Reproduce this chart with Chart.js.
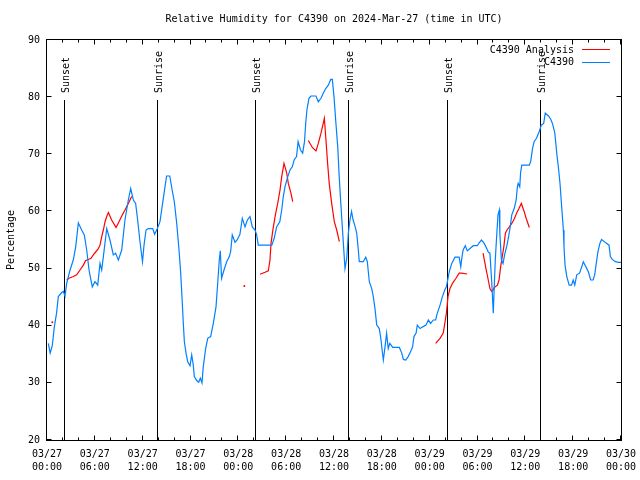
<!DOCTYPE html>
<html>
<head>
<meta charset="utf-8">
<script src="https://cdn.jsdelivr.net/npm/chart.js@4"></script>
<style>
  html, body { margin: 0; padding: 0; background: #fff; }
</style>
</head>
<body>
<canvas id="rhChart" width="640" height="480"></canvas>
<script>
// hours since 03/27 00:00 UTC
const stationHours = [
  0.16, 0.4, 0.67, 0.92, 1.2, 1.42, 1.84, 2.05, 2.26, 2.47, 2.89, 3.3, 3.6, 3.93, 4.35, 4.68, 4.98, 5.27, 5.68, 6.02,
  6.36, 6.65, 6.86, 7.07, 7.49, 7.9, 8.32, 8.6, 8.95, 9.37, 9.78, 10.2, 10.5, 10.83, 11.12, 11.37, 11.67, 11.98, 12.17, 12.42,
  12.7, 13.26, 13.5, 13.84, 14.17, 14.5, 14.8, 15.0, 15.4, 15.7, 15.97, 16.27, 16.56, 16.77, 16.93, 17.1, 17.23, 17.44, 17.65, 17.94,
  18.15, 18.35, 18.48, 18.78, 19.03, 19.23, 19.44, 19.6, 19.9, 20.16, 20.53, 20.86, 21.2, 21.41, 21.61, 21.74, 21.9, 22.2, 22.54, 22.87,
  23.04, 23.24, 23.58, 23.85, 24.2, 24.5, 24.84, 25.13, 25.46, 25.75, 26.1, 26.3, 26.5, 27.76, 28.2, 28.5, 28.8, 29.2, 29.44, 29.64,
  29.85, 30.2, 30.48, 30.77, 31.0, 31.3, 31.5, 31.8, 32.07, 32.3, 32.45, 32.6, 32.86, 33.1, 33.74, 34.03, 34.37, 34.65, 34.96, 35.29,
  35.59, 35.79, 36.0, 36.21, 36.47, 36.63, 36.8, 36.96, 37.17, 37.38, 37.6, 37.8, 38.0, 38.2, 38.4, 38.6, 38.85, 39.05, 39.17, 39.67,
  39.98, 40.18, 40.43, 40.73, 40.93, 41.14, 41.36, 41.68, 41.9, 42.06, 42.19, 42.4, 42.6, 42.8, 43.0, 43.37, 44.2, 44.5, 44.7, 45.0,
  45.3, 45.6, 45.86, 46.03, 46.3, 46.45, 46.8, 47.13, 47.54, 47.83, 48.12, 48.45, 48.75, 48.96, 49.3, 49.6, 49.9, 50.1, 50.3, 50.46,
  50.77, 51.18, 51.7, 51.9, 52.06, 52.2, 52.47, 52.72, 53.06, 53.47, 53.97, 54.2, 54.5, 54.8, 55.06, 55.35, 55.56, 55.77, 55.9, 55.98,
  56.1, 56.23, 56.4, 56.57, 56.74, 56.8, 57.0, 57.2, 57.4, 57.7, 57.9, 58.1, 58.3, 58.6, 58.85, 59.0, 59.1, 59.3, 59.4, 59.55,
  60.5, 60.67, 60.9, 61.1, 61.4, 61.75, 62.0, 62.3, 62.5, 62.9, 63.2, 63.4, 63.7, 63.94, 64.14, 64.35, 64.56, 64.77, 64.85, 64.98,
  65.2, 65.5, 65.8, 66.0, 66.2, 66.45, 66.8, 67.07, 67.27, 67.6, 67.9, 68.2, 68.5, 68.7, 68.9, 69.1, 69.35, 69.56, 70.1, 70.5,
  70.67, 70.9, 71.3, 71.7, 72.0
];
const stationValues = [
  36.9, 35.2, 36.6, 39.8, 42.2, 45.1, 45.8, 46.0, 45.2, 47.4, 49.75, 51.5, 53.8, 58.0, 56.75, 55.9, 53.25, 49.75, 46.8, 47.7,
  47.1, 50.9, 49.75, 52.1, 57.0, 55.0, 52.4, 52.7, 51.5, 53.25, 58.5, 62.0, 64.0, 62.0, 61.4, 58.5, 54.6, 51.2, 54.1, 56.75,
  57.0, 57.0, 56.0, 57.0, 58.2, 61.4, 64.3, 66.2, 66.2, 63.75, 61.7, 57.9, 53.25, 49.2, 45.1, 40.4, 37.2, 35.2, 33.7, 33.0,
  34.9, 33.1, 31.1, 30.4, 30.1, 30.8, 30.0, 32.8, 36.0, 37.8, 38.1, 40.4, 43.3, 47.4, 51.5, 53.1, 48.3, 49.75, 51.2, 52.1,
  53.0, 55.9, 54.6, 55.0, 56.0, 58.8, 57.3, 58.5, 59.1, 57.3, 56.75, 55.9, 54.1, 54.1, 54.1, 55.3, 57.3, 58.2, 60.25, 62.6,
  64.3, 66.1, 67.25, 67.8, 69.0, 69.6, 72.2, 70.75, 70.2, 72.2, 75.4, 77.75, 79.8, 80.2, 80.2, 79.2, 79.8, 80.7, 81.5, 82.1,
  83.1, 83.1, 80.1, 76.0, 71.3, 66.7, 62.6, 59.1, 54.5, 50.0, 51.8, 56.2, 58.5, 60.0, 58.5, 57.6, 56.2, 53.25, 51.2, 51.2,
  52.0, 51.2, 47.7, 46.5, 45.1, 43.0, 40.1, 39.5, 37.5, 35.45, 34.0, 36.3, 38.7, 36.0, 36.9, 36.2, 36.2, 35.2, 34.1, 34.0,
  34.6, 35.45, 36.3, 38.1, 38.7, 40.1, 39.5, 39.8, 40.1, 41.0, 40.4, 41.0, 41.0, 42.2, 43.6, 45.1, 46.3, 46.8, 48.3, 49.45,
  50.9, 52.0, 52.0, 50.3, 52.1, 53.25, 54.0, 53.1, 53.5, 54.0, 54.0, 54.5, 55.0, 54.5, 53.8, 52.9, 52.7, 48.0, 44.5, 42.2,
  46.8, 51.5, 55.6, 59.4, 60.25, 56.2, 51.5, 50.9, 52.4, 54.1, 55.6, 57.3, 59.4, 60.5, 62.0, 64.3, 64.9, 64.3, 66.7, 68.1,
  68.1, 68.7, 71.0, 72.2, 72.8, 74.0, 75.1, 75.4, 77.2, 76.7, 76.1, 75.4, 73.7, 70.2, 67.8, 64.9, 60.8, 56.75, 53.8, 50.6,
  48.6, 47.1, 47.1, 48.0, 47.1, 48.9, 49.2, 50.3, 51.2, 50.3, 49.45, 48.0, 48.0, 48.9, 50.9, 52.9, 54.4, 55.1, 54.5, 54.1,
  52.1, 51.6, 51.2, 51.1, 51.1
];

// analysis series, null value = gap between segments
const analysisHours = [
  0.67, 1.5,
  2.47, 2.76, 3.3, 3.72, 4.14, 4.56, 4.85, 5.19, 5.52, 5.81, 6.1, 6.44, 6.65, 6.86, 7.07, 7.28, 7.49, 7.7, 8.11, 8.66, 9.03, 9.45, 9.78, 10.2, 10.62, 12.0,
  24.75, 25.5,
  26.72, 27.35, 27.76, 27.97, 28.1, 28.39, 28.69, 28.94, 29.23, 29.44, 29.73, 30.07, 30.27, 30.6, 30.82, 31.5,
  32.78, 33.28, 33.74, 34.03, 34.37, 34.79, 34.96, 35.2, 35.4, 35.71, 36.04, 36.34, 36.67, 40.0,
  48.75, 49.3, 49.7, 49.9, 50.1, 50.3, 50.55, 50.9, 51.3, 51.7, 52.0, 52.7, 53.5,
  54.7, 55.06, 55.35, 55.56, 55.77, 55.98, 56.1, 56.5, 56.7, 56.9, 57.1, 57.3, 57.5, 57.7, 58.0, 58.3, 58.65, 58.9, 59.2, 59.5, 59.85, 60.1, 60.5
];
const analysisValues = [
  40.6, null,
  48.0, 48.3, 48.6, 48.9, 49.75, 50.6, 51.4, 51.6, 51.8, 52.4, 52.9, 53.5, 54.1, 55.6, 56.75, 58.2, 59.1, 59.8, 58.5, 57.2, 58.2, 59.4, 60.25, 61.4, 62.6, null,
  46.95, null,
  49.0, 49.35, 49.6, 51.5, 54.4, 57.3, 59.7, 61.4, 63.75, 66.1, 68.4, 66.7, 64.9, 63.2, 61.7, null,
  72.4, 71.2, 70.6, 71.9, 73.7, 76.3, 73.1, 68.4, 64.9, 61.4, 58.2, 56.75, 54.7, null,
  36.9, 37.8, 38.7, 40.4, 42.2, 45.1, 46.5, 47.5, 48.3, 49.2, 49.2, 49.05, null,
  52.7, 50.0, 48.0, 46.5, 46.0, 46.25, 46.7, 47.1, 48.0, 50.3, 52.1, 53.8, 56.2, 56.75, 57.3, 57.9, 58.8, 59.7, 60.5, 61.4, 60.0, 58.8, 57.2
];

const sunHours = [2.17, 13.84, 26.13, 37.76, 50.2, 61.9];
const sunLabels = ["Sunset", "Sunrise", "Sunset", "Sunrise", "Sunset", "Sunrise"];

const FONT = "'DejaVu Sans Mono', 'Liberation Mono', monospace";
const RED = "#ff0000";
const BLUE = "#0080ff";

function toPoints(hours, values) {
  return hours.map((h, i) => ({ x: h, y: values[i] }));
}

// lone points get a tiny dot, otherwise only the line
function loneDot(ctx) {
  const d = ctx.dataset.data;
  const i = ctx.dataIndex;
  const empty = p => !p || p.y === null;
  return (!empty(d[i]) && empty(d[i - 1]) && empty(d[i + 1])) ? 1 : 0;
}

function pad2(n) {
  return (n < 10 ? "0" : "") + n;
}

const decor = {
  id: "decor",
  beforeDatasetsDraw(chart) {
    const ctx = chart.ctx;
    const xs = chart.scales.x;
    const ys = chart.scales.y;
    const area = chart.chartArea;
    const topY = Math.round(ys.getPixelForValue(79.5));
    ctx.save();
    ctx.strokeStyle = "#000";
    ctx.lineWidth = 1;
    ctx.fillStyle = "#000";
    ctx.font = "10px " + FONT;
    sunHours.forEach((h, i) => {
      const px = Math.round(xs.getPixelForValue(h)) + 0.5;
      ctx.beginPath();
      ctx.moveTo(px, area.bottom);
      ctx.lineTo(px, topY);
      ctx.stroke();
      ctx.save();
      ctx.translate(px + 1.5, topY - 7);
      ctx.rotate(-Math.PI / 2);
      ctx.textAlign = "left";
      ctx.textBaseline = "middle";
      ctx.fillText(sunLabels[i], 0, 0);
      ctx.restore();
    });
    ctx.restore();
  },
  afterDraw(chart) {
    const ctx = chart.ctx;
    const xs = chart.scales.x;
    const ys = chart.scales.y;
    const a = chart.chartArea;
    const L = a.left - 0.5, R = a.right + 0.5, T = a.top - 0.5, B = a.bottom + 0.5;
    ctx.save();
    ctx.strokeStyle = "#000";
    ctx.lineWidth = 1;
    ctx.strokeRect(L, T, R - L, B - T);

    // ticks, pointing inward
    ctx.beginPath();
    for (let h = 0; h <= 72; h += 2) {
      const px = Math.round(xs.getPixelForValue(h)) - 0.5;
      const len = h % 6 === 0 ? 5 : 3;
      ctx.moveTo(px, B); ctx.lineTo(px, B - len);
      ctx.moveTo(px, T); ctx.lineTo(px, T + len);
    }
    for (let v = 20; v <= 90; v += 10) {
      const py = Math.round(ys.getPixelForValue(v)) - 0.5;
      ctx.moveTo(L, py); ctx.lineTo(L + 5, py);
      ctx.moveTo(R, py); ctx.lineTo(R - 5, py);
    }
    ctx.stroke();

    ctx.fillStyle = "#000";
    ctx.font = "10px " + FONT;
    ctx.textAlign = "center";
    ctx.textBaseline = "middle";
    ctx.fillText("Relative Humidity for C4390 on 2024-Mar-27 (time in UTC)", (a.left + a.right) / 2, 19);

    ctx.save();
    ctx.translate(11, (a.top + a.bottom) / 2);
    ctx.rotate(-Math.PI / 2);
    ctx.fillText("Percentage", 0, 0);
    ctx.restore();

    // key
    const keyRows = [["C4390 Analysis", RED, 50], ["C4390", BLUE, 62.5]];
    ctx.textAlign = "right";
    keyRows.forEach(([txt, col, y]) => {
      ctx.fillStyle = "#000";
      ctx.fillText(txt, 574, y);
      ctx.strokeStyle = col;
      ctx.beginPath();
      ctx.moveTo(582, Math.round(y) - 0.5);
      ctx.lineTo(610, Math.round(y) - 0.5);
      ctx.stroke();
    });
    ctx.restore();
  }
};

new Chart(document.getElementById("rhChart"), {
  type: "line",
  data: {
    datasets: [
      {
        label: "C4390 Analysis",
        data: toPoints(analysisHours, analysisValues),
        borderColor: RED,
        backgroundColor: RED,
        borderWidth: 1.2,
        pointRadius: loneDot,
        pointBorderWidth: 0,
        spanGaps: false,
        tension: 0,
        order: 1
      },
      {
        label: "C4390",
        data: toPoints(stationHours, stationValues),
        borderColor: BLUE,
        backgroundColor: BLUE,
        borderWidth: 1.2,
        pointRadius: 0,
        tension: 0,
        order: 0
      }
    ]
  },
  options: {
    responsive: false,
    animation: false,
    devicePixelRatio: 1,
    layout: { padding: { top: 40, right: 19, left: 0, bottom: 0 } },
    plugins: {
      legend: { display: false },
      tooltip: { enabled: false }
    },
    scales: {
      x: {
        type: "linear",
        min: 0,
        max: 72,
        grid: { display: false, drawTicks: false },
        border: { display: false },
        ticks: {
          stepSize: 6,
          autoSkip: false,
          maxRotation: 0,
          padding: 8,
          color: "#000",
          font: { family: FONT, size: 10, lineHeight: 1.27 },
          callback: v => ["03/" + pad2(27 + Math.floor(v / 24)), pad2(v % 24) + ":00"]
        },
        afterFit: s => { s.height = 40; s.paddingLeft = 0; s.paddingRight = 0; }
      },
      y: {
        min: 20,
        max: 90,
        grid: { display: false, drawTicks: false },
        border: { display: false },
        ticks: {
          stepSize: 10,
          padding: 7,
          color: "#000",
          font: { family: FONT, size: 10 }
        },
        afterFit: s => { s.width = 47; s.paddingTop = 0; s.paddingBottom = 0; }
      }
    }
  },
  plugins: [decor]
});
</script>
</body>
</html>
